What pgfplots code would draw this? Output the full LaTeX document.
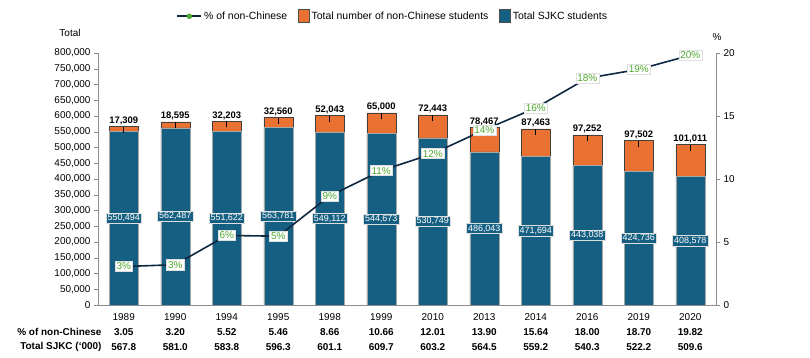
\documentclass[border=0pt]{standalone}
\usepackage{fontspec}
\setmainfont{Liberation Sans}
\usepackage{pgfplots}
\pgfplotsset{compat=1.18}
\usepackage{pgfplotstable}
\definecolor{cblue}{HTML}{156082}
\definecolor{corange}{HTML}{E97132}
\definecolor{cgreen}{HTML}{4EA72E}
\definecolor{cnavy}{HTML}{0E2841}
\definecolor{axgray}{HTML}{8C8C8C}

\pgfplotstableread{
x sjkc non sjkclab nonlab pct pctlab
0  550494 17309  550,494 17,309  3.05  3
1  562487 18595  562,487 18,595  3.20  3
2  551622 32203  551,622 32,203  5.52  6
3  563781 32560  563,781 32,560  5.46  5
4  549112 52043  549,112 52,043  8.66  9
5  544673 65000  544,673 65,000  10.66 11
6  530749 72443  530,749 72,443  12.01 12
7  486043 78467  486,043 78,467  13.90 14
8  471694 87463  471,694 87,463  15.64 16
9  443038 97252  443,038 97,252  18.00 18
10 424736 97502  424,736 97,502  18.70 19
11 408578 101011 408,578 101,011 19.82 20
}\data

\pgfplotsset{
  common/.style={
    at={(98bp,53bp)}, anchor=south west, scale only axis,
    width=618bp, height=252bp,
    xmin=-0.5, xmax=11.5,
    /pgf/number format/assume math mode=true,
    tick label style={font=\fontsize{10}{12}\selectfont},
    axis line style={axgray},
    tick style={axgray, thin},
    tick align=outside, major tick length=4bp,
  }
}

\begin{document}
\begin{tikzpicture}
\path[use as bounding box] (0,0) rectangle (810bp,358bp);

% bars
\begin{axis}[common,
  ybar stacked, bar width=29bp,
  ymin=0, ymax=800000,
  ytick={0,50000,...,800000}, scaled y ticks=false,
  yticklabel style={/pgf/number format/fixed, /pgf/number format/precision=0, /pgf/number format/1000 sep={,}},
  axis x line*=bottom, axis y line*=left,
  xtick={0,...,11}, major x tick style={draw=none},
  xticklabels={
    {1989\\\textbf{3.05}\\\textbf{567.8}},
    {1990\\\textbf{3.20}\\\textbf{581.0}},
    {1994\\\textbf{5.52}\\\textbf{583.8}},
    {1995\\\textbf{5.46}\\\textbf{596.3}},
    {1998\\\textbf{8.66}\\\textbf{601.1}},
    {1999\\\textbf{10.66}\\\textbf{609.7}},
    {2010\\\textbf{12.01}\\\textbf{603.2}},
    {2013\\\textbf{13.90}\\\textbf{564.5}},
    {2014\\\textbf{15.64}\\\textbf{559.2}},
    {2016\\\textbf{18.00}\\\textbf{540.3}},
    {2019\\\textbf{18.70}\\\textbf{522.2}},
    {2020\\\textbf{19.82}\\\textbf{509.6}}},
  xticklabel style={align=center, font=\fontsize{10}{15}\selectfont, yshift=-1bp},
  legend style={at={(0.477,1.147)}, anchor=center, draw=none, fill=none,
    legend columns=3, font=\fontsize{10.5}{12}\selectfont,
    /tikz/every even column/.append style={column sep=9bp}},
]
\addlegendimage{legend image code/.code={\draw[cnavy, line width=1.6bp] (0bp,0bp) -- (24bp,0bp); \fill[cgreen] (12bp,0bp) circle (2.5bp);}}
\addlegendentry{\% of non-Chinese}
\addlegendimage{legend image code/.code={\draw[fill=corange, draw=gray!60!black, line width=0.4bp] (0bp,-6bp) rectangle (11bp,7bp);}}
\addlegendentry{Total number of non-Chinese students}
\addlegendimage{legend image code/.code={\draw[fill=cblue, draw=gray!60!black, line width=0.4bp] (0bp,-6bp) rectangle (11bp,7bp);}}
\addlegendentry{Total SJKC students}

\addplot[fill=cblue, draw=gray!70, line width=0.5bp, forget plot]
  table[x=x, y=sjkc] {\data};
\addplot[fill=corange, draw=gray!50!black, line width=0.5bp, forget plot]
  table[x=x, y=non] {\data};
\end{axis}

% value labels on bars (not stacked)
\begin{axis}[common, hide axis, ymin=0, ymax=800000]
\addplot[draw=none, mark=none, point meta=explicit symbolic,
  nodes near coords,
  every node near coord/.append style={anchor=center, fill=cblue, draw=white!75!gray, line width=0.6bp,
    text=white, inner sep=1.5bp, font=\fontsize{9}{10}\selectfont}]
  table[x=x, y expr=\thisrow{sjkc}/2, meta=sjkclab] {\data};
\addplot[draw=none, mark=none, point meta=explicit symbolic,
  nodes near coords={\textbf{\pgfplotspointmeta}},
  every node near coord/.append style={anchor=base, yshift=3bp,
    font=\fontsize{9.5}{11}\selectfont, text=black, inner sep=0bp,
    label={[anchor=north, inner sep=0pt, yshift=-1.5bp]south:\rule{0.6bp}{6bp}}}]
  table[x=x, y expr=\thisrow{sjkc}+\thisrow{non}, meta=nonlab] {\data};
\end{axis}

% percentage line
\begin{axis}[common,
  ymin=0, ymax=20, ytick={0,5,...,20},
  axis y line*=right, axis x line=none,
]
\addplot[cnavy, line width=1.6bp, mark=*, mark size=2bp, mark options={fill=cgreen, draw=cgreen},
  point meta=explicit symbolic,
  nodes near coords={\pgfplotspointmeta\%},
  every node near coord/.append style={anchor=center, fill=white, draw=gray!25, line width=0.4bp,
    text=cgreen, inner sep=1.5bp, font=\fontsize{10}{12}\selectfont}]
  table[x=x, y=pct, meta=pctlab] {\data};
\end{axis}

\node[font=\fontsize{10}{12}\selectfont] at (70bp,325bp) {Total};
\node[font=\fontsize{10}{12}\selectfont] at (717bp,321bp) {\%};
\node[anchor=east, font=\bfseries\fontsize{10}{12}\selectfont] at (105bp,26bp) {\% of non-Chinese};
\node[anchor=east, font=\bfseries\fontsize{10}{12}\selectfont] at (105bp,11bp) {Total SJKC (‘000)};
\end{tikzpicture}
\end{document}
